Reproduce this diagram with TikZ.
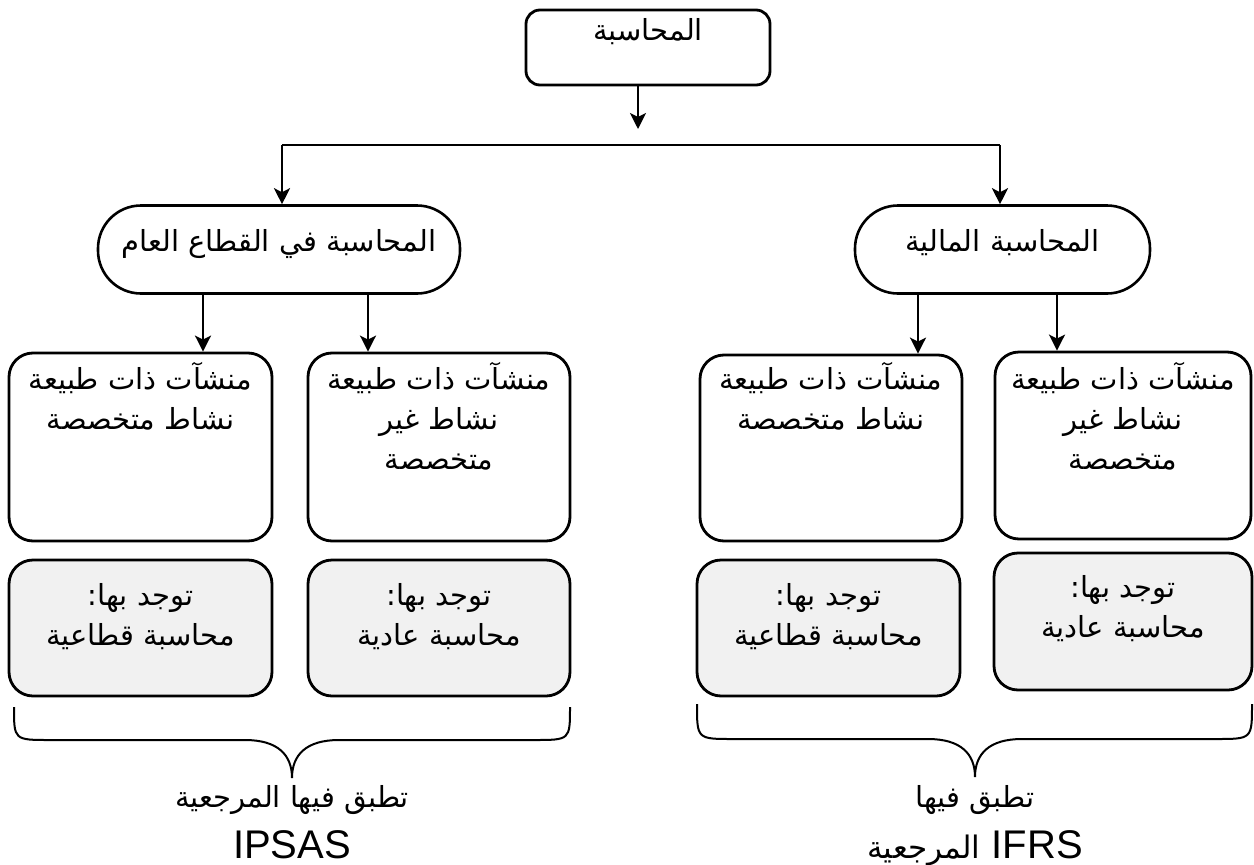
\documentclass[tikz,border=0pt]{standalone}
\usepackage{fontspec}
\setmainfont{Liberation Sans}
\newfontfamily\arabicfont[Script=Arabic]{DejaVu Sans}
\TeXXeTstate=1
\usetikzlibrary{arrows.meta}
\definecolor{boxgrey}{RGB}{241,241,241}
\newcommand{\tl}[1]{\strut\beginR #1\endR}
\newcommand{\ar}[1]{{\arabicfont\beginR #1\endR}}
\newcommand{\bxt}[4]{\parbox[c][#2][t]{#1}{\centering\arabicfont\fontsize{29}{40}\selectfont\vspace*{#3}#4\par}}
\begin{document}
\begin{tikzpicture}[x=1pt,y=-1pt,
  box/.style={draw, line width=2.8pt, rounded corners=24pt, inner sep=0pt, fill=white},
  greybox/.style={box, fill=boxgrey},
  topbox/.style={box, rounded corners=14pt},
  stad/.style={draw, line width=2.6pt, rounded corners=43pt, inner sep=0pt, fill=white, text height=22pt, text depth=18pt, font=\arabicfont\fontsize{29}{40}\selectfont},
  conn/.style={line width=2.4pt},
  arr/.style={conn, -{Stealth[length=16pt,width=16pt,inset=4pt]}},
  brace/.style={line width=2pt},
  lbl/.style={inner sep=0pt, font=\fontsize{29}{40}\selectfont},
  latin/.style={inner sep=0pt, font=\fontsize{40}{48}\selectfont}]
\useasboundingbox (0,0) rectangle (1254,865);
\fill[white] (0,0) rectangle (1254,865);

% top
\node[topbox] (top) at (648,47.5) {\bxt{244pt}{75pt}{2pt}{\tl{المحاسبة}}};

% stadiums
\node[stad, minimum width=362pt, minimum height=88pt] (ls) at (279,249.5) {\beginR المحاسبة في القطاع العام\endR};
\node[stad, minimum width=295pt, minimum height=88pt] (rs) at (1002.5,249.5) {\beginR المحاسبة المالية\endR};

% row 3
\node[box] (L1) at (140.5,447) {\bxt{263pt}{188pt}{8pt}{\tl{منشآت ذات طبيعة}\\\tl{نشاط متخصصة}}};
\node[box] (L2) at (439,447) {\bxt{262pt}{188pt}{8pt}{\tl{منشآت ذات طبيعة}\\\tl{نشاط غير}\\\tl{متخصصة}}};
\node[box] (R1) at (831,448) {\bxt{262pt}{186pt}{6pt}{\tl{منشآت ذات طبيعة}\\\tl{نشاط متخصصة}}};
\node[box] (R2) at (1123,445.5) {\bxt{256pt}{187pt}{9pt}{\tl{منشآت ذات طبيعة}\\\tl{نشاط غير}\\\tl{متخصصة}}};

% row 4
\node[greybox] (L1g) at (140.5,628) {\bxt{263pt}{136pt}{17pt}{\tl{توجد بها:}\\\tl{محاسبة قطاعية}}};
\node[greybox] (L2g) at (439,628) {\bxt{262pt}{136pt}{17pt}{\tl{توجد بها:}\\\tl{محاسبة عادية}}};
\node[greybox] (R1g) at (828.5,628) {\bxt{263pt}{136pt}{17pt}{\tl{توجد بها:}\\\tl{محاسبة قطاعية}}};
\node[greybox] (R2g) at (1123,621.5) {\bxt{258pt}{137pt}{16pt}{\tl{توجد بها:}\\\tl{محاسبة عادية}}};

% connectors
\coordinate (split) at (638,129);
\coordinate (hl) at (282,145);
\coordinate (hr) at (1000,145);
\draw[arr] (top.south -| split) -- (split);
\draw[conn] (hl) -- (hr);
\draw[arr] (hl) -- (hl |- ls.north);
\draw[arr] (hr) -- (hr |- rs.north);
\draw[arr] (ls.south -| 203,0) -- (L1.north -| 203,0);
\draw[arr] (ls.south -| 368,0) -- (L2.north -| 368,0);
\draw[arr] (rs.south -| 918,0) -- (R1.north -| 918,0);
\draw[arr] (rs.south -| 1057,0) -- (R2.north -| 1057,0);

% braces
\draw[brace] (14,707) .. controls (14,740) and (14,740) .. (50,740) -- (245,740)
  .. controls (278,740) and (292,755) .. (292,778)
  .. controls (292,755) and (306,740) .. (339,740) -- (534,740)
  .. controls (570,740) and (570,740) .. (570,707);
\draw[brace] (697,704) .. controls (697,739) and (697,739) .. (733,739) -- (928,739)
  .. controls (961,739) and (975,754) .. (975,777)
  .. controls (975,754) and (989,739) .. (1022,739) -- (1216,739)
  .. controls (1252,739) and (1252,739) .. (1252,704);

% labels
\node[lbl] (lt1) at (292,800) {\ar{تطبق فيها المرجعية}};
\node[latin] (lt2) at (292,845) {IPSAS};
\node[lbl] (rt1) at (975,800) {\ar{تطبق فيها}};
\node[latin, anchor=base] (rt2) at (975,858) {\ar{\fontsize{31}{40}\selectfont المرجعية} IFRS};
\end{tikzpicture}
\end{document}
